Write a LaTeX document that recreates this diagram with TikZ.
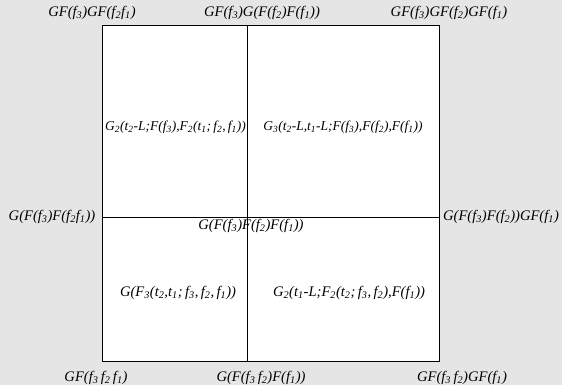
\documentclass[tikz,border=0pt]{standalone}
\usepackage{fontspec}
\setmainfont{Liberation Serif}
\newcommand{\sbx}[1]{\textsubscript{#1}}
\tikzset{lbl/.style={font=\fontsize{14.6}{16}\selectfont\itshape, inner sep=0pt},
         lblsm/.style={lbl, font=\fontsize{13.5}{15}\selectfont\itshape}}
\begin{document}
\begin{tikzpicture}[x=1pt, y=1pt]
            % background and square
            \fill[black!10] (0,0) rectangle (562,385);
            \useasboundingbox (0,0) rectangle (562,385);
            \coordinate (sw) at (102,23);
            \coordinate (ne) at (439,359);
            \coordinate (top) at (247.5,359);
            \coordinate (bot) at (247.5,23);
            \coordinate (lft) at (102,167.5);
            \coordinate (rgt) at (439,167.5);
            \draw[fill=white, line width=1pt] (sw) rectangle (ne);
            \draw[line width=0.7pt] (top) -- (bot);
            \draw[line width=0.7pt] (lft) -- (rgt);

            % corners and edges
            \node[lbl] (tl) at (92,372) {GF(f\sbx{3})GF(f\sbx{2}f\sbx{1})};
            \node[lbl] (tm) at (262,372) {GF(f\sbx{3})G(F(f\sbx{2})F(f\sbx{1}))};
            \node[lbl] (tr) at (449,372) {GF(f\sbx{3})GF(f\sbx{2})GF(f\sbx{1})};
            \node[lbl] (ml) at (52,168) {G(F(f\sbx{3})F(f\sbx{2}f\sbx{1}))};
            \node[lbl] (mr) at (501,168) {G(F(f\sbx{3})F(f\sbx{2}))GF(f\sbx{1})};
            \node[lbl] (mc) at (251,159) {G(F(f\sbx{3})F(f\sbx{2})F(f\sbx{1}))};
            \node[lbl] (bl) at (96,7) {GF(f\sbx{3}\,f\sbx{2}\,f\sbx{1})};
            \node[lbl] (bm) at (261,7) {G(F(f\sbx{3}\,f\sbx{2})F(f\sbx{1}))};
            \node[lbl] (br) at (462,7) {GF(f\sbx{3}\,f\sbx{2})GF(f\sbx{1})};

            % quadrants
            \node[lblsm] (q1) at (175.5,258) {G\sbx{2}(t\sbx{2}-L;F(f\sbx{3}),F\sbx{2}(t\sbx{1};\,f\sbx{2},\,f\sbx{1}))};
            \node[lblsm] (q2) at (343,258) {G\sbx{3}(t\sbx{2}-L,t\sbx{1}-L;F(f\sbx{3}),F(f\sbx{2}),F(f\sbx{1}))};
            \node[lbl] (q3) at (178,92) {G(F\sbx{3}(t\sbx{2},t\sbx{1};\,f\sbx{3},\,f\sbx{2},\,f\sbx{1}))};
            \node[lbl] (q4) at (349,92) {G\sbx{2}(t\sbx{1}-L;F\sbx{2}(t\sbx{2};\,f\sbx{3},\,f\sbx{2}),F(f\sbx{1}))};
        \end{tikzpicture}
\end{document}
